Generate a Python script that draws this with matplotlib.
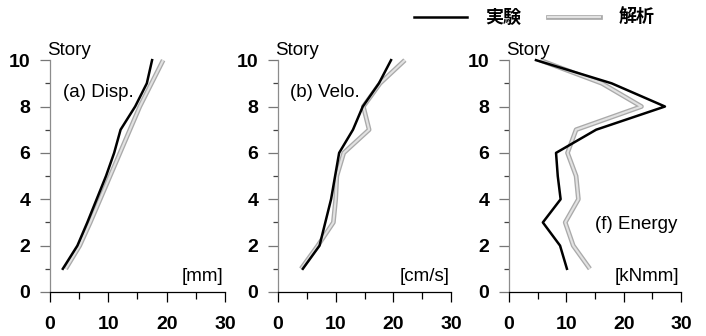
import matplotlib
matplotlib.use("Agg")
import matplotlib.pyplot as plt
import matplotlib.patheffects as pe
from matplotlib.lines import Line2D

plt.rcParams["font.family"] = ["Liberation Sans", "Noto Sans CJK JP", "DejaVu Sans"]

stories = [1, 2, 3, 4, 5, 6, 7, 8, 9, 10]

disp_exp = [2.2, 4.7, 6.4, 8.0, 9.6, 11.0, 12.1, 14.6, 16.6, 17.5]
disp_ana = [2.7, 5.1, 6.9, 8.6, 10.3, 12.0, 13.7, 15.4, 17.4, 19.4]

velo_exp = [4.3, 7.2, 8.2, 9.2, 9.9, 10.6, 13.0, 14.7, 17.5, 19.6]
velo_ana = [4.0, 6.9, 9.6, 10.0, 10.2, 11.4, 15.8, 14.8, 17.7, 22.0]

energy_exp = [10.1, 8.9, 5.9, 9.0, 8.5, 8.2, 15.2, 27.2, 17.9, 4.7]
energy_ana = [14.1, 11.2, 9.8, 12.1, 11.7, 10.2, 11.7, 23.1, 16.2, 5.4]

panels = [
    ("(a) Disp.", "[mm]", disp_exp, disp_ana, (0.074, 0.862)),
    ("(b) Velo.", "[cm/s]", velo_exp, velo_ana, (0.07, 0.862)),
    ("(f) Energy", "[kNmm]", energy_exp, energy_ana, (0.50, 0.289)),
]
boxes = [
    (0.0708, 0.131, 0.2479, 0.690),
    (0.3938, 0.131, 0.2450, 0.690),
    (0.7210, 0.131, 0.2436, 0.690),
]

gray_fx = [pe.Stroke(linewidth=3.4, foreground="#aaaaaa"), pe.Normal()]

fig = plt.figure(figsize=(7.06, 3.36), dpi=100)

for (title, unit, exp, ana, tpos), box in zip(panels, boxes):
    ax = fig.add_axes(box)
    ax.plot(ana, stories, color="#e2e2e2", lw=1.5, path_effects=gray_fx,
            solid_capstyle="butt", clip_on=False)
    ax.plot(exp, stories, color="black", lw=1.8, clip_on=False)

    ax.set_xlim(0, 30)
    ax.set_ylim(0, 10)
    ax.set_xticks([0, 10, 20, 30])
    ax.set_xticks([5, 15, 25], minor=True)
    ax.set_yticks([0, 2, 4, 6, 8, 10])
    ax.set_yticks([1, 3, 5, 7, 9], minor=True)

    for side in ("top", "right"):
        ax.spines[side].set_visible(False)
    ax.spines["left"].set_color("#8c8c8c")
    ax.spines["bottom"].set_color("black")
    ax.spines["left"].set_linewidth(0.9)
    ax.spines["bottom"].set_linewidth(0.9)

    ax.tick_params(axis="x", which="major", length=7.2, width=0.9, pad=10,
                   labelsize=14, direction="out")
    ax.tick_params(axis="x", which="minor", length=5, width=0.9, direction="out")
    ax.tick_params(axis="y", which="major", length=7.2, width=0.9, pad=7,
                   labelsize=14, color="#777777")
    ax.tick_params(axis="y", which="minor", length=3.6, width=0.9, color="#444444")
    for lab in ax.get_xticklabels() + ax.get_yticklabels():
        lab.set_fontweight("bold")

    ax.annotate("Story", xy=(0, 1), xycoords="axes fraction",
                xytext=(-2, 1), textcoords="offset points",
                ha="left", va="bottom", fontsize=13.5)
    ax.text(tpos[0], tpos[1], title, transform=ax.transAxes,
            ha="left", va="center", fontsize=13.5)
    ax.text(0.99, 0.065, unit, transform=ax.transAxes,
            ha="right", va="center", fontsize=13.5)

handles = [
    Line2D([], [], color="black", lw=1.8),
    Line2D([], [], color="#e2e2e2", lw=1.5, path_effects=gray_fx),
]
fig.legend(handles, ["実験", "解析"], loc="center", bbox_to_anchor=(0.757, 0.947),
           ncol=2, frameon=False, handlelength=2.9, columnspacing=1.5,
           handletextpad=1.0,
           prop={"family": ["Noto Sans CJK JP"], "weight": "bold", "size": 13})

fig.savefig("out.png", dpi=100)
